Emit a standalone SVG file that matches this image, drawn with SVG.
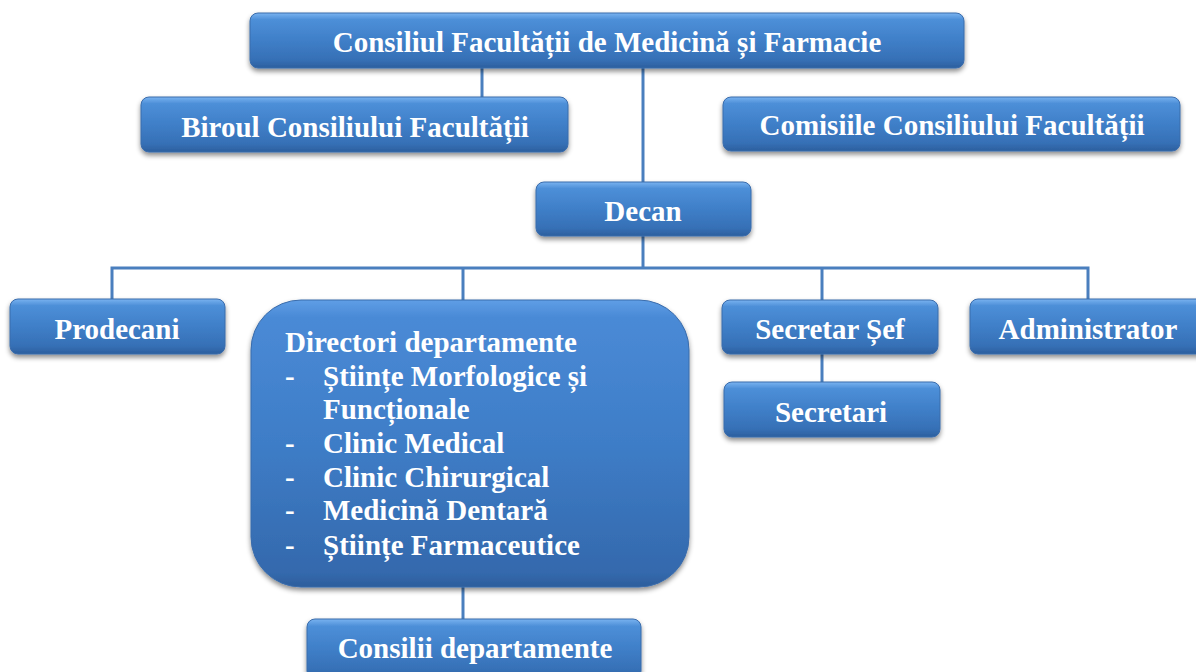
<svg xmlns="http://www.w3.org/2000/svg" width="1196" height="672" viewBox="0 0 1196 672">
<defs>
<linearGradient id="blue" x1="0" y1="0" x2="0" y2="1">
<stop offset="0" stop-color="#79b3f0"/>
<stop offset="0.12" stop-color="#4d8fd8"/>
<stop offset="0.5" stop-color="#3f7fc8"/>
<stop offset="0.85" stop-color="#3670b6"/>
<stop offset="1" stop-color="#2c5f9e"/>
</linearGradient>
<linearGradient id="blueBig" x1="0" y1="0" x2="0" y2="1">
<stop offset="0" stop-color="#5f9ee6"/>
<stop offset="0.06" stop-color="#4a8ad6"/>
<stop offset="0.5" stop-color="#3e7dc7"/>
<stop offset="0.95" stop-color="#3469ad"/>
<stop offset="1" stop-color="#2d5e9c"/>
</linearGradient>
<filter id="shadow" x="-10%" y="-20%" width="120%" height="150%">
<feDropShadow dx="0" dy="3" stdDeviation="2.5" flood-color="#000" flood-opacity="0.45"/>
</filter>
</defs>
<style>
.box{fill:url(#blue);stroke:#3a6cab;stroke-width:1;filter:url(#shadow)}
.big{fill:url(#blueBig);stroke:#3a6cab;stroke-width:1;filter:url(#shadow)}
.t{font-family:"Liberation Serif","Times New Roman",serif;font-weight:bold;font-size:29px;fill:#fff}
.c{text-anchor:middle}
.conn{stroke:#4a7fbe;stroke-width:3;fill:none}
</style>
<rect width="1196" height="672" fill="#fff"/>
<g id="connectors">
<line class="conn" x1="482" y1="67" x2="482" y2="98"/>
<line class="conn" x1="643" y1="67" x2="643" y2="183"/>
<line class="conn" x1="643" y1="235" x2="643" y2="268"/>
<polyline class="conn" points="112,300 112,268 1088,268 1088,300"/>
<line class="conn" x1="463" y1="268" x2="463" y2="301"/>
<line class="conn" x1="822" y1="268" x2="822" y2="301"/>
<line class="conn" x1="822" y1="353" x2="822" y2="383"/>
<line class="conn" x1="463" y1="586" x2="463" y2="620"/>
</g>
<g id="consiliul">
<rect class="box" x="250" y="13" width="714" height="55" rx="8"/>
<text class="t c" x="607" y="52">Consiliul Facultății de Medicină și Farmacie</text>
</g>
<g id="biroul">
<rect class="box" x="141" y="97" width="427" height="55" rx="8"/>
<text class="t c" x="355" y="137">Biroul Consiliului Facultății</text>
</g>
<g id="comisiile">
<rect class="box" x="723" y="97" width="457" height="54" rx="8"/>
<text class="t c" x="952" y="135">Comisiile Consiliului Facultății</text>
</g>
<g id="decan">
<rect class="box" x="536" y="182" width="215" height="54" rx="8"/>
<text class="t c" x="643" y="221">Decan</text>
</g>
<g id="prodecani">
<rect class="box" x="10" y="299" width="215" height="55" rx="8"/>
<text class="t c" x="117" y="339">Prodecani</text>
</g>
<g id="directori">
<rect class="big" x="251" y="300" width="438" height="287" rx="50"/>
<text class="t" x="285" y="352">Directori departamente</text>
<text class="t" x="285" y="386">-</text>
<text class="t" x="323" y="386">Științe Morfologice și</text>
<text class="t" x="323" y="419">Funcționale</text>
<text class="t" x="285" y="453">-</text>
<text class="t" x="323" y="453">Clinic Medical</text>
<text class="t" x="285" y="487">-</text>
<text class="t" x="323" y="487">Clinic Chirurgical</text>
<text class="t" x="285" y="520">-</text>
<text class="t" x="323" y="520">Medicină Dentară</text>
<text class="t" x="285" y="555">-</text>
<text class="t" x="323" y="555">Științe Farmaceutice</text>
</g>
<g id="secretar-sef">
<rect class="box" x="722" y="300" width="216" height="54" rx="8"/>
<text class="t c" x="830" y="339">Secretar Șef</text>
</g>
<g id="secretari">
<rect class="box" x="724" y="382" width="216" height="55" rx="8"/>
<text class="t c" x="831" y="422">Secretari</text>
</g>
<g id="administrator">
<rect class="box" x="970" y="299" width="240" height="55" rx="8"/>
<text class="t c" x="1088" y="339">Administrator</text>
</g>
<g id="consilii">
<rect class="box" x="307" y="619" width="334" height="60" rx="8"/>
<text class="t c" x="475" y="658">Consilii departamente</text>
</g>
</svg>
